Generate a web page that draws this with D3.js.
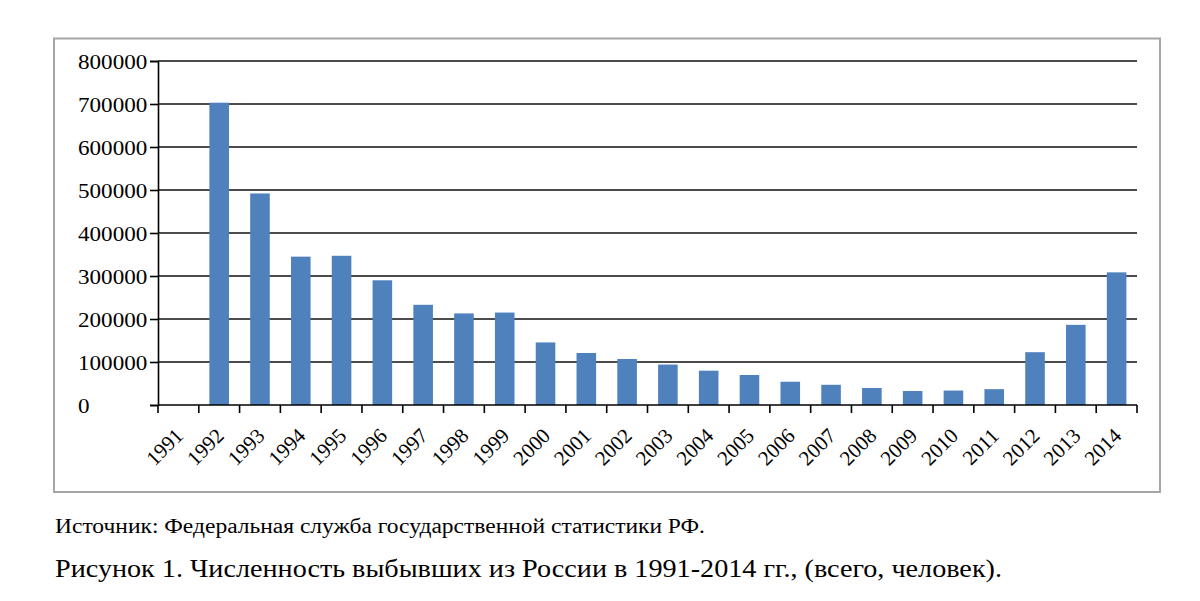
<!DOCTYPE html>
<html><head><meta charset="utf-8">
<script src="https://cdn.jsdelivr.net/npm/d3@7"></script>
<style>
html,body{margin:0;padding:0;background:#fff;}
svg{display:block;}
text{font-family:"Liberation Serif","Times New Roman",serif;fill:#000;}
</style></head>
<body>
<svg id="c" width="1200" height="601"></svg>
<script>
const years = ["1991","1992","1993","1994","1995","1996","1997","1998","1999","2000","2001","2002","2003","2004","2005","2006","2007","2008","2009","2010","2011","2012","2013","2014"];
const emigrants = [0,703000,492000,345000,347000,290000,233000,213000,215000,145500,121000,107000,94000,79800,69800,54100,47000,39500,32500,33600,36800,122800,186400,308500];
const yTicks = [0,100000,200000,300000,400000,500000,600000,700000,800000];
const sourceText = "Источник: Федеральная служба государственной статистики РФ.";
const captionText = "Рисунок 1. Численность выбывших из России в 1991-2014 гг., (всего, человек).";

const svg = d3.select("#c");
const stretch = 1.1;
function widen(sel){ sel.each(function(){ const w=this.getComputedTextLength(); this.setAttribute("textLength", w*stretch); this.setAttribute("lengthAdjust","spacingAndGlyphs"); }); }

// frame
svg.append("rect").attr("x",54).attr("y",38.5).attr("width",1106).attr("height",453.5)
  .attr("fill","none").attr("stroke","#a6a6a6").attr("stroke-width",2);

const pL=158, pR=1137, pT=61, pB=405;
const x = d3.scaleBand().domain(years).range([pL,pR]).paddingInner(0.52).paddingOuter(0.26);
const xb = d3.scaleBand().domain(years).range([pL,pR]);
const y = d3.scaleLinear().domain([0,800000]).range([pB,pT]);

// gridlines
svg.append("g").selectAll("line").data(yTicks.filter(d=>d>0)).join("line")
  .attr("x1",pL).attr("x2",pR).attr("y1",d=>y(d)).attr("y2",d=>y(d))
  .attr("stroke","#111").attr("stroke-width",1.6);

// bars
svg.append("g").selectAll("rect").data(years).join("rect")
  .attr("x",(d)=>x(d)).attr("width",x.bandwidth())
  .attr("y",(d,i)=>y(emigrants[i])).attr("height",(d,i)=>pB-y(emigrants[i]))
  .attr("fill","#4f81bd");

// y axis
const yAxis = svg.append("g").attr("transform",`translate(${pL},0)`)
  .call(d3.axisLeft(y).tickValues(yTicks).tickSize(8).tickFormat(d3.format("d")));
yAxis.attr("font-family",null).attr("font-size",null);
yAxis.select(".domain").attr("stroke","#000").attr("stroke-width",1.6);
yAxis.selectAll(".tick line").attr("stroke","#000").attr("stroke-width",1.6);
yAxis.selectAll(".tick text").style("font-size","21px")
  .attr("text-anchor","start").attr("x",78-pL).attr("dy","0.36em");
widen(yAxis.selectAll(".tick text"));

// x axis line + ticks at band boundaries
const xg = svg.append("g");
xg.append("line").attr("x1",pL).attr("x2",pR).attr("y1",pB).attr("y2",pB)
  .attr("stroke","#000").attr("stroke-width",1.6);
const bounds = years.map(d=>xb(d)).concat([pR]);
xg.selectAll("line.t").data(bounds).join("line").attr("class","t")
  .attr("x1",d=>d).attr("x2",d=>d).attr("y1",pB).attr("y2",pB+8)
  .attr("stroke","#000").attr("stroke-width",1.6);
xg.selectAll("text").data(years).join("text")
  .attr("transform",d=>`translate(${xb(d)+xb.bandwidth()/2+6},437) rotate(-45)`)
  .attr("text-anchor","end").style("font-size","21px").text(d=>d);

// source and caption
svg.append("text").attr("x",55).attr("y",533).style("font-size","20px")
  .attr("textLength",650).attr("lengthAdjust","spacingAndGlyphs").text(sourceText);
svg.append("text").attr("x",55).attr("y",577).style("font-size","25px")
  .attr("textLength",947).attr("lengthAdjust","spacingAndGlyphs").text(captionText);
</script>
</body></html>
